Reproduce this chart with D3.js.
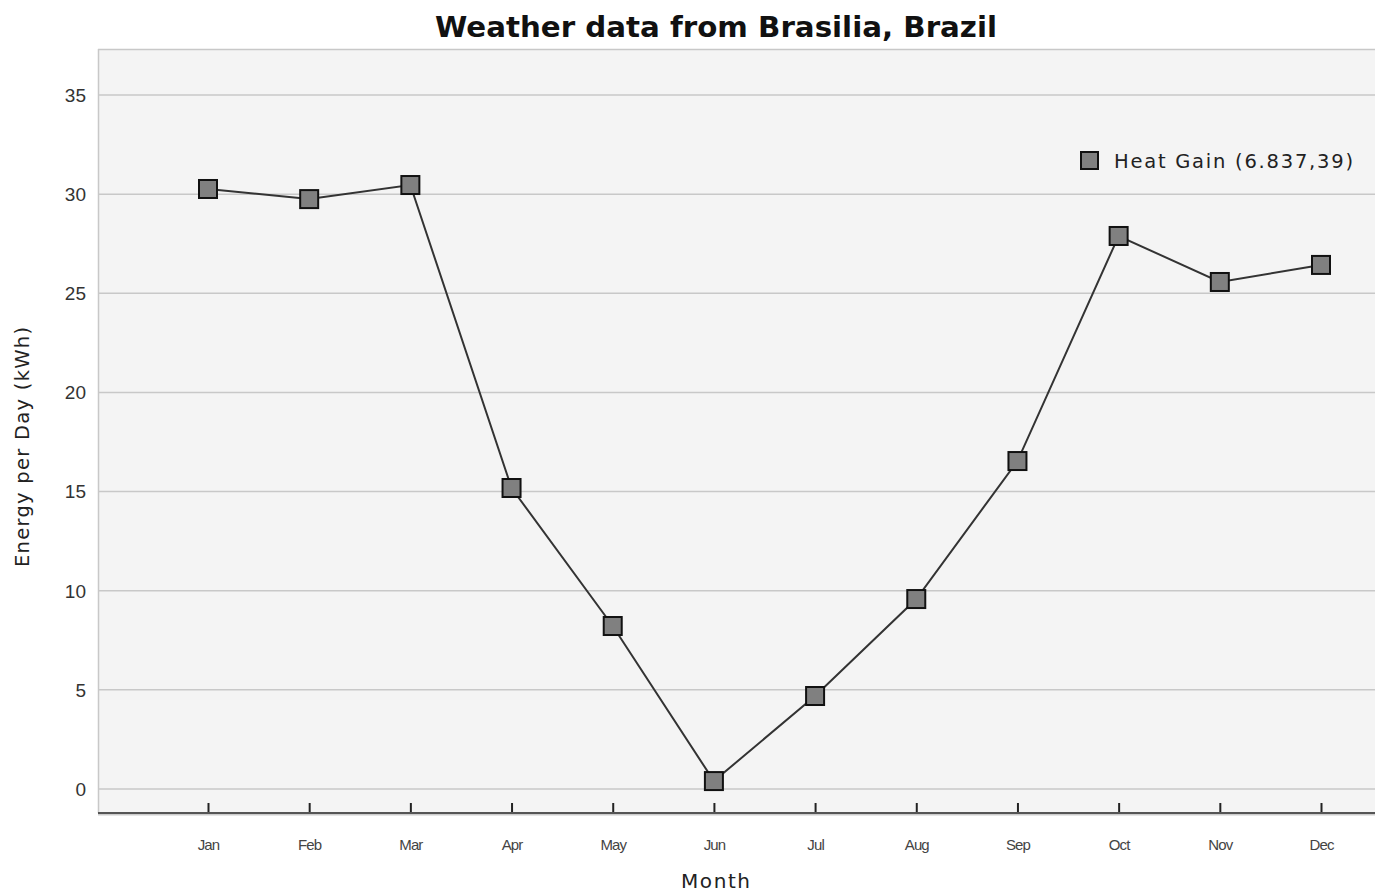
<!DOCTYPE html>
<html><head><meta charset="utf-8">
<script src="https://cdn.jsdelivr.net/npm/d3@7"></script>
<style>body{margin:0;background:#fff}svg{display:block}</style>
</head><body>
<script>
const months = ["Jan","Feb","Mar","Apr","May","Jun","Jul","Aug","Sep","Oct","Nov","Dec"];
const heatGain = [30.26,29.75,30.46,15.18,8.22,0.40,4.69,9.58,16.54,27.89,25.57,26.43];
const yTicks = [0,5,10,15,20,25,30,35];
const seriesName = "Heat Gain (6.837,39)";

const W=1375,H=892;
const m={left:98,top:49,right:1375,bottom:813};
const svg=d3.select("body").append("svg").attr("width",W).attr("height",H);

const x=d3.scalePoint().domain(months).range([208,1321]);
const y=d3.scaleLinear().domain([-1.21,37.32]).range([m.bottom,m.top]);

svg.append("rect").attr("x",m.left).attr("y",m.top).attr("width",m.right-m.left).attr("height",m.bottom-m.top)
  .attr("fill","#f4f4f4").attr("stroke","none");
svg.append("line").attr("x1",m.left).attr("x2",m.right).attr("y1",m.top+0.5).attr("y2",m.top+0.5).attr("stroke","#c8c8c8").attr("stroke-width",1.5);
svg.append("line").attr("x1",m.left+0.5).attr("x2",m.left+0.5).attr("y1",m.top).attr("y2",m.bottom).attr("stroke","#c8c8c8").attr("stroke-width",1.5);

svg.append("g").selectAll("line").data(yTicks).join("line")
  .attr("x1",m.left).attr("x2",m.right).attr("y1",d=>y(d)).attr("y2",d=>y(d))
  .attr("stroke","#c8c8c8").attr("stroke-width",1.5);

svg.append("g").selectAll("text").data(yTicks).join("text")
  .attr("x",86).attr("y",d=>y(d)).attr("dy","0.36em").attr("text-anchor","end")
  .attr("font-family","Liberation Sans, Arial, sans-serif").attr("font-size",19).attr("fill","#333")
  .text(d=>d);

const xa=svg.append("g").attr("transform",`translate(0,${m.bottom})`)
  .call(d3.axisBottom(x).tickSizeInner(-10).tickSizeOuter(0).tickPadding(26));
xa.select(".domain").remove();
xa.selectAll(".tick line").attr("stroke","#222").attr("stroke-width",2);
xa.selectAll(".tick text").attr("font-family","Liberation Sans, Arial, sans-serif").attr("font-size",15)
  .attr("fill","#444").attr("letter-spacing","-0.9px");
svg.append("line").attr("x1",m.left).attr("x2",m.right).attr("y1",m.bottom+1.5).attr("y2",m.bottom+1.5).attr("stroke","#ccc").attr("stroke-width",2);
svg.append("line").attr("x1",m.left).attr("x2",m.right).attr("y1",m.bottom).attr("y2",m.bottom).attr("stroke","#555").attr("stroke-width",2);

const pts=months.map((mo,i)=>[x(mo),y(heatGain[i])]);
svg.append("path").attr("d",d3.line()(pts)).attr("fill","none").attr("stroke","#333").attr("stroke-width",2);
const s=18;
svg.append("g").selectAll("rect").data(pts).join("rect")
  .attr("x",d=>d[0]-s/2).attr("y",d=>d[1]-s/2).attr("width",s).attr("height",s)
  .attr("fill","#808080").attr("stroke","#111").attr("stroke-width",2);

svg.append("rect").attr("x",1081).attr("y",152).attr("width",17).attr("height",17)
  .attr("fill","#808080").attr("stroke","#111").attr("stroke-width",2);
svg.append("text").attr("x",1114).attr("y",161).attr("dy","0.36em")
  .attr("font-family","DejaVu Sans, sans-serif").attr("font-size",19.5).attr("fill","#222")
  .attr("textLength",239).attr("lengthAdjust","spacing")
  .text(seriesName);

svg.append("text").attr("x",435).attr("y",27).attr("dy","0.36em")
  .attr("font-family","DejaVu Sans, sans-serif").attr("font-weight","bold").attr("font-size",29).attr("fill","#111")
  .attr("textLength",562).attr("lengthAdjust","spacingAndGlyphs")
  .text("Weather data from Brasilia, Brazil");

svg.append("text").attr("x",681).attr("y",881).attr("dy","0.36em")
  .attr("font-family","DejaVu Sans, sans-serif").attr("font-size",20).attr("fill","#222")
  .attr("textLength",69).attr("lengthAdjust","spacing")
  .text("Month");
svg.append("text").attr("transform","translate(22,567) rotate(-90)").attr("dy","0.36em")
  .attr("font-family","DejaVu Sans, sans-serif").attr("font-size",19.5).attr("fill","#222")
  .attr("textLength",240).attr("lengthAdjust","spacing")
  .text("Energy per Day (kWh)");
</script>
</body></html>
